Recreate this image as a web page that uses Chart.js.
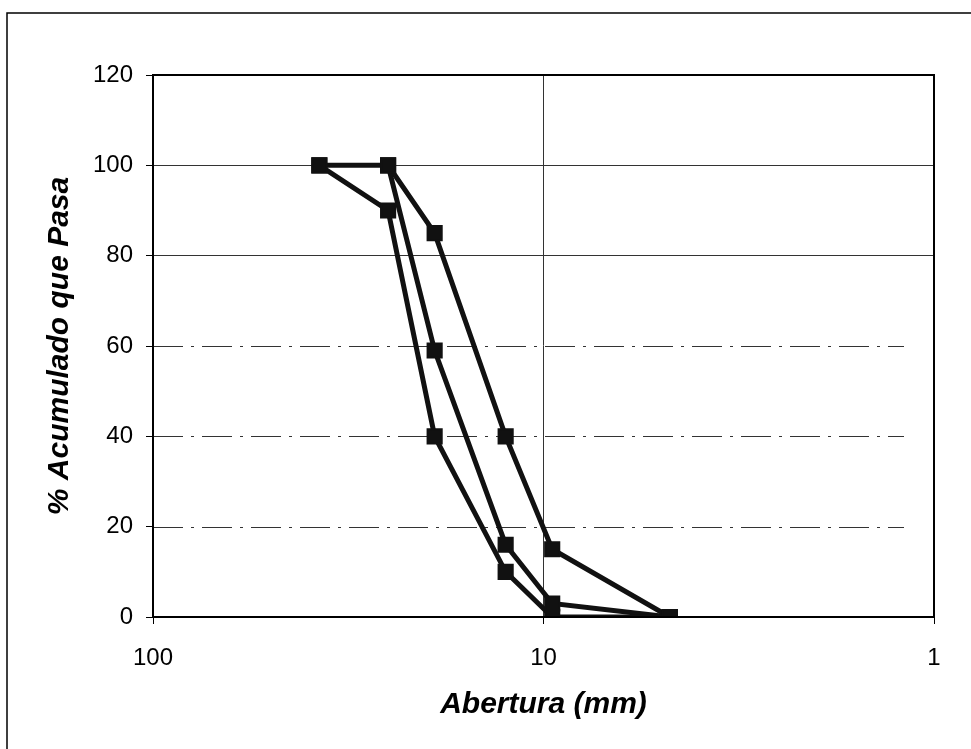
<!DOCTYPE html>
<html>
<head>
<meta charset="utf-8">
<script src="https://cdn.jsdelivr.net/npm/chart.js@4/dist/chart.umd.min.js"></script>
<style>
  html, body { margin: 0; padding: 0; background: #fff; }
  #wrap { width: 971px; height: 749px; position: relative; }
</style>
</head>
<body>
<div id="wrap"><canvas id="grafico" width="971" height="749"></canvas></div>
<script>
// Aberturas de los tamices (mm) y porcentajes acumulados que pasan
const aberturas = [37.5, 25, 19, 12.5, 9.5, 4.75];
const limiteInferior = [100, 90, 40, 10, 0, 0];
const muestra = [null, 100, 59, 16, 3, 0];
const limiteSuperior = [100, 100, 85, 40, 15, 0];

// Marcas de los ejes
const ticksX = [100, 10, 1];
const ticksY = [0, 20, 40, 60, 80, 100, 120];
// Líneas de división que salen de trazo y punto en el original
const divisionesPunteadas = [20, 40, 60];

const serie = (valores) => aberturas
    .map((x, i) => ({ x: x, y: valores[i] }))
    .filter(p => p.y !== null);

const estiloSerie = {
    showLine: true,
    borderColor: '#111',
    borderWidth: 5,
    backgroundColor: '#111',
    pointStyle: 'rect',
    pointRadius: 10,
    pointBorderWidth: 2,
    pointBackgroundColor: '#111',
    pointBorderColor: '#111'
};

// Divisiones de trazo y punto, se dibujan antes de las series
const divisiones = {
    id: 'divisiones',
    beforeDatasetsDraw(chart) {
        const ctx = chart.ctx;
        const a = chart.chartArea;
        const y = chart.scales.y;
        ctx.save();
        ctx.strokeStyle = '#333';
        ctx.lineWidth = 1;
        ctx.setLineDash([30, 8, 3, 8]);
        divisionesPunteadas.forEach(v => {
            const py = Math.round(y.getPixelForValue(v)) + 0.5;
            ctx.beginPath();
            ctx.moveTo(a.left, py);
            ctx.lineTo(a.right - 30, py);
            ctx.stroke();
        });
        ctx.restore();
    }
};

// Marco exterior y recuadro del área de trazado
const marcos = {
    id: 'marcos',
    afterDraw(chart) {
        const ctx = chart.ctx;
        const a = chart.chartArea;
        ctx.save();
        ctx.strokeStyle = '#000';
        ctx.lineWidth = 2;
        ctx.strokeRect(a.left, a.top, a.right - a.left, a.bottom - a.top);
        ctx.lineWidth = 1.5;
        ctx.beginPath();
        ctx.moveTo(7, 749);
        ctx.lineTo(7, 13);
        ctx.lineTo(971, 13);
        ctx.stroke();
        ctx.restore();
    }
};

new Chart(document.getElementById('grafico'), {
    type: 'scatter',
    data: {
        datasets: [
            Object.assign({ label: 'Límite inferior', data: serie(limiteInferior) }, estiloSerie),
            Object.assign({ label: 'Muestra', data: serie(muestra) }, estiloSerie),
            Object.assign({ label: 'Límite superior', data: serie(limiteSuperior) }, estiloSerie)
        ]
    },
    options: {
        responsive: false,
        animation: false,
        layout: { padding: { left: 38, right: 37, top: 75, bottom: 22 } },
        plugins: {
            legend: { display: false },
            tooltip: { enabled: false }
        },
        scales: {
            x: {
                type: 'logarithmic',
                reverse: true,
                min: 1,
                max: 100,
                afterBuildTicks: (scale) => { scale.ticks = ticksX.map(v => ({ value: v })); },
                afterFit: (scale) => { scale.height = 110; },
                ticks: {
                    color: '#000',
                    font: { family: 'Liberation Sans, Arial', size: 24 },
                    padding: 20,
                    maxRotation: 0,
                    callback: (v) => String(v)
                },
                grid: { color: '#333', lineWidth: 1, tickLength: 7, tickColor: '#000' },
                border: { color: '#000', width: 2 },
                title: {
                    display: true,
                    text: 'Abertura (mm)',
                    color: '#000',
                    font: { family: 'Liberation Sans, Arial', size: 30, weight: 'bold', style: 'italic' }
                }
            },
            y: {
                min: 0,
                max: 120,
                afterBuildTicks: (scale) => { scale.ticks = ticksY.map(v => ({ value: v })); },
                afterFit: (scale) => { scale.width = 115; },
                ticks: {
                    color: '#000',
                    font: { family: 'Liberation Sans, Arial', size: 24 },
                    padding: 13
                },
                grid: {
                    color: (c) => (c.tick && divisionesPunteadas.includes(c.tick.value)) ? 'rgba(0,0,0,0)' : '#333',
                    lineWidth: 1,
                    tickLength: 7,
                    tickColor: '#000'
                },
                border: { color: '#000', width: 2 },
                title: {
                    display: true,
                    text: '% Acumulado que Pasa',
                    color: '#000',
                    font: { family: 'Liberation Sans, Arial', size: 30, weight: 'bold', style: 'italic' }
                }
            }
        }
    },
    plugins: [divisiones, marcos]
});
</script>
</body>
</html>
